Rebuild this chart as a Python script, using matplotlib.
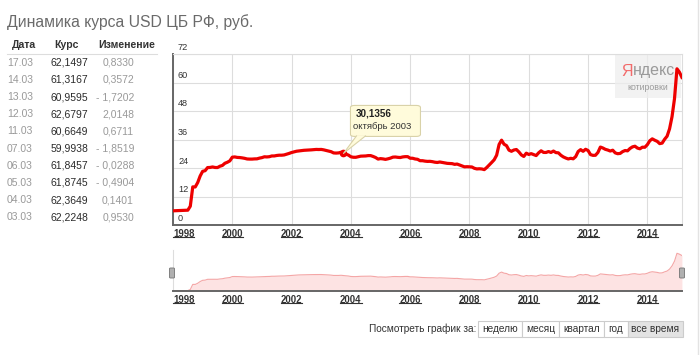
import numpy as np
import matplotlib
matplotlib.use("Agg")
import matplotlib.pyplot as plt
from matplotlib import transforms
from matplotlib.patches import FancyBboxPatch, Rectangle, Polygon
from matplotlib.lines import Line2D

plt.rcParams["font.family"] = ["Liberation Sans", "DejaVu Sans"]

W, H = 700, 355

title = "Динамика курса USD ЦБ РФ, руб."
table_header = ["Дата", "Курс", "Изменение"]
table_dates = ["17.03", "14.03", "13.03", "12.03", "11.03",
               "07.03", "06.03", "05.03", "04.03", "03.03"]
table_rates = ["62,1497", "61,3167", "60,9595", "62,6797", "60,6649",
               "59,9938", "61,8457", "61,8745", "62,3649", "62,2248"]
table_changes = ["0,8330", "0,3572", "- 1,7202", "2,0148", "0,6711",
                 "- 1,8519", "- 0,0288", "- 0,4904", "0,1401", "0,9530"]

# monthly USD/RUB, Jan 1998 .. Mar 2015
first_year = 1998
usd_rate = [
    5.97, 6.01, 6.04, 6.09, 6.13, 6.20, 6.24, 7.91, 16.06, 16.01, 17.88, 20.65,   # 1998
    22.60, 22.86, 24.18, 24.23, 24.44, 24.22, 24.19, 24.75, 25.08, 25.99, 26.42, 27.00,  # 1999
    28.55, 28.66, 28.46, 28.40, 28.26, 28.07, 27.80, 27.75, 27.75, 27.83, 27.86, 28.16,  # 2000
    28.37, 28.72, 28.66, 28.76, 29.07, 29.07, 29.27, 29.39, 29.39, 29.50, 29.81, 30.14,  # 2001
    30.52, 30.78, 31.06, 31.20, 31.32, 31.45, 31.51, 31.55, 31.64, 31.75, 31.82, 31.78,  # 2002
    31.82, 31.64, 31.38, 31.15, 30.87, 30.35, 30.28, 30.35, 30.61, 30.1356, 29.80, 29.45,  # 2003
    28.72, 28.52, 28.51, 28.74, 28.99, 29.02, 29.07, 29.22, 29.22, 28.86, 28.42, 27.75,  # 2004
    27.95, 27.83, 27.63, 27.86, 28.15, 28.57, 28.63, 28.49, 28.41, 28.66, 28.78, 28.78,  # 2005
    28.12, 28.10, 27.80, 27.66, 27.07, 27.07, 26.89, 26.78, 26.81, 26.67, 26.44, 26.33,  # 2006
    26.53, 26.36, 26.15, 25.96, 25.90, 25.83, 25.54, 25.66, 25.27, 24.92, 24.48, 24.55,  # 2007
    24.48, 24.43, 23.87, 23.61, 23.68, 23.59, 23.32, 24.21, 25.26, 26.34, 27.45, 29.38,  # 2008
    33.91, 35.72, 34.01, 33.42, 31.52, 31.03, 31.58, 31.78, 30.78, 29.52, 28.86, 30.24,  # 2009
    29.70, 30.05, 29.65, 29.23, 30.39, 31.24, 30.56, 30.54, 30.93, 30.55, 31.13, 30.48,  # 2010
    30.39, 29.37, 28.67, 28.19, 27.81, 28.08, 27.87, 28.79, 30.94, 31.74, 31.02, 31.88,  # 2011
    31.37, 29.64, 29.32, 29.36, 30.54, 32.82, 32.42, 31.86, 31.56, 31.14, 31.49, 30.37,  # 2012
    30.02, 30.14, 30.90, 31.36, 31.23, 32.23, 32.90, 33.17, 32.39, 32.09, 32.76, 32.73,  # 2013
    33.82, 35.47, 36.27, 35.70, 35.22, 34.26, 34.48, 36.10, 37.39, 40.49, 45.62, 53.20,  # 2014
    65.76, 64.33, 62.15,                                                                 # 2015
]

y_ticks = [0, 12, 24, 36, 48, 60, 72]
x_years = [1998, 2000, 2002, 2004, 2006, 2008, 2010, 2012, 2014]
tip_index = (2003 - first_year) * 12 + 9   # октябрь 2003
tip_value = "30,1356"
tip_month = "октябрь 2003"
view_label = "Посмотреть график за:"
periods = ["неделю", "месяц", "квартал", "год", "все время"]

t = first_year + np.arange(len(usd_rate)) / 12.0
rate = np.array(usd_rate)


def fx(x):
    return x / W


def fy(y):
    return 1 - y / H


fig = plt.figure(figsize=(W / 100, H / 100), dpi=100)
fig.patch.set_facecolor("white")

# ---- left table ----
fig.text(fx(7), fy(22), title, fontsize=11.3, color="#6a6a6a", va="center")
hx = [12, 54, 98]
for x, h in zip(hx, table_header):
    fig.text(fx(x), fy(45), h, fontsize=7.6, fontweight="bold", color="#333333", va="center")
fig.add_artist(Line2D([fx(7), fx(157)], [fy(53.5), fy(53.5)], color="#dddddd", lw=0.8))
for i, (d, r, c) in enumerate(zip(table_dates, table_rates, table_changes)):
    y = 62.7 + i * 17.18
    fig.text(fx(7), fy(y), d, fontsize=7.5, color="#999999", va="center")
    fig.text(fx(50.5), fy(y), r, fontsize=7.5, color="#2a2a2a", va="center")
    fig.text(fx(134), fy(y), c, fontsize=7.5, color="#999999", va="center", ha="right")

# ---- main chart ----
ax = fig.add_axes([fx(173), fy(225), (682 - 173) / W, (225 - 54) / H])
ax.plot(t, rate, color="#ee0000", lw=2.3, solid_joinstyle="round", zorder=4)
ax.set_xlim(first_year, t[-1] + 0.003)
ax.set_ylim(0, 72)
ax.set_yticks(y_ticks)
ax.set_xticks(x_years)
ax.grid(color="#dddddd", lw=0.8, zorder=0)
ax.set_axisbelow(True)
ax.tick_params(length=0, labelleft=False, pad=2.6)
ax.set_xticklabels([str(y) for y in x_years], fontsize=6.9, fontweight="bold", color="#333333")
ax.get_xticklabels()[0].set_ha("left")
for s in ["left", "bottom"]:
    ax.spines[s].set_color("#666666")
    ax.spines[s].set_linewidth(1.4)
for s in ["top", "right"]:
    ax.spines[s].set_color("#dddddd")
    ax.spines[s].set_linewidth(0.8)

ylab_tr = transforms.offset_copy(ax.get_yaxis_transform(), fig=fig, x=5, y=2.5, units="dots")
for v in y_ticks:
    ax.text(0, v, str(v), transform=ylab_tr, fontsize=6.6, color="#333333",
            ha="left", va="bottom")

# yandex watermark
ax.add_patch(Rectangle((fx(615), fy(98)), fx(66), 44 / H, transform=fig.transFigure,
                       facecolor="#eeeeee", alpha=0.75, edgecolor="none", zorder=1))

# tooltip on October 2003
ax.plot(t[tip_index], rate[tip_index], "o", color="#ee0000", ms=4.5, zorder=5)
px, py = ax.transData.transform((t[tip_index], rate[tip_index]))
py = H - py   # distance from top
box = FancyBboxPatch((fx(px + 7), fy(py - 17)), 70 / W, 31 / H,
                     boxstyle="round,pad=0,rounding_size=0.006",
                     transform=fig.transFigure, facecolor="#fffbdb",
                     edgecolor="#d9d2a8", lw=0.8, zorder=6)
fig.add_artist(box)
tail = [(fx(px + 13), fy(py - 17.5)), (fx(px), fy(py)), (fx(px + 22), fy(py - 17.5))]
fig.add_artist(Polygon(tail, closed=True, transform=fig.transFigure,
                       facecolor="#fffbdb", edgecolor="none", zorder=7))
fig.add_artist(Line2D([tail[0][0], tail[1][0], tail[2][0]], [tail[0][1], tail[1][1], tail[2][1]],
                      color="#d9d2a8", lw=0.8, zorder=7))
fig.text(fx(px + 12), fy(py - 40), tip_value, fontsize=7.1, fontweight="bold",
         color="#222222", va="center", zorder=8)
fig.text(fx(px + 10), fy(py - 27), tip_month, fontsize=6.8, color="#333333",
         va="center", zorder=8)

# ---- navigator ----
nav = fig.add_axes([fx(173), fy(291), (682 - 173) / W, 41 / H])
nav.fill_between(t, rate, 0, color="#fde3e3", lw=0)
nav.plot(t, rate, color="#f4a6a6", lw=0.8)
nav.set_xlim(ax.get_xlim())
nav.set_ylim(5.5, 71)
nav.set_xticks(x_years)
nav.set_yticks([])
nav.tick_params(length=0, pad=2.6)
nav.set_xticklabels([str(y) for y in x_years], fontsize=6.9, fontweight="bold", color="#333333")
nav.get_xticklabels()[0].set_ha("left")
for s in ["top", "right"]:
    nav.spines[s].set_visible(False)
nav.spines["left"].set_color("#dddddd")
nav.spines["left"].set_linewidth(0.8)
nav.spines["bottom"].set_color("#666666")
nav.spines["bottom"].set_linewidth(1.4)

for hxp in [172, 682]:
    fig.add_artist(FancyBboxPatch((fx(hxp - 2.5), fy(278)), 5 / W, 10 / H,
                                  boxstyle="round,pad=0,rounding_size=0.002",
                                  transform=fig.transFigure, facecolor="#b0b0b0",
                                  edgecolor="#808080", lw=0.7, zorder=5))

# ---- period buttons ----
edges = [478.3, 522.3, 559, 604.3, 627.7, 682.7]
fig.text(fx(476.5), fy(329), view_label, fontsize=7.3, color="#333333", ha="right", va="center")
for i, p in enumerate(periods):
    x0, x1 = edges[i], edges[i + 1]
    face = "#e3e3e3" if i == len(periods) - 1 else "white"
    fig.add_artist(Rectangle((fx(x0), fy(337)), (x1 - x0) / W, 16.5 / H,
                             transform=fig.transFigure, facecolor=face,
                             edgecolor="#cccccc", lw=0.8))
    fig.text(fx((x0 + x1) / 2), fy(329), p, fontsize=7.3, color="#333333",
             ha="center", va="center")

# page border on the right
fig.add_artist(Line2D([fx(698), fx(698)], [0, 1], color="#e3e3e3", lw=1))

# underlines for year labels and the yandex wordmark need text extents
fig.canvas.draw()
renderer = fig.canvas.get_renderer()
inv = fig.transFigure.inverted()
for lab in ax.get_xticklabels() + nav.get_xticklabels():
    bb = lab.get_window_extent(renderer)
    (x0, y0), (x1, _) = inv.transform([(bb.x0, bb.y0 + 1.5), (bb.x1, bb.y0 + 1.5)])
    fig.add_artist(Line2D([x0, x1], [y0, y0], color="#333333", lw=0.8))

ya = fig.text(fx(621), fy(71), "Я", fontsize=11.5, color="#f26b6b", va="center", zorder=3)
bb = ya.get_window_extent(renderer)
fig.text(inv.transform((bb.x1, 0))[0], fy(71), "ндекс", fontsize=11.5, color="#9a9a9a",
         va="center", zorder=3)
fig.text(fx(648), fy(88), "котировки", fontsize=6.3, color="#9a9a9a",
         ha="center", va="center", zorder=3)

fig.savefig("out.png", dpi=100)
